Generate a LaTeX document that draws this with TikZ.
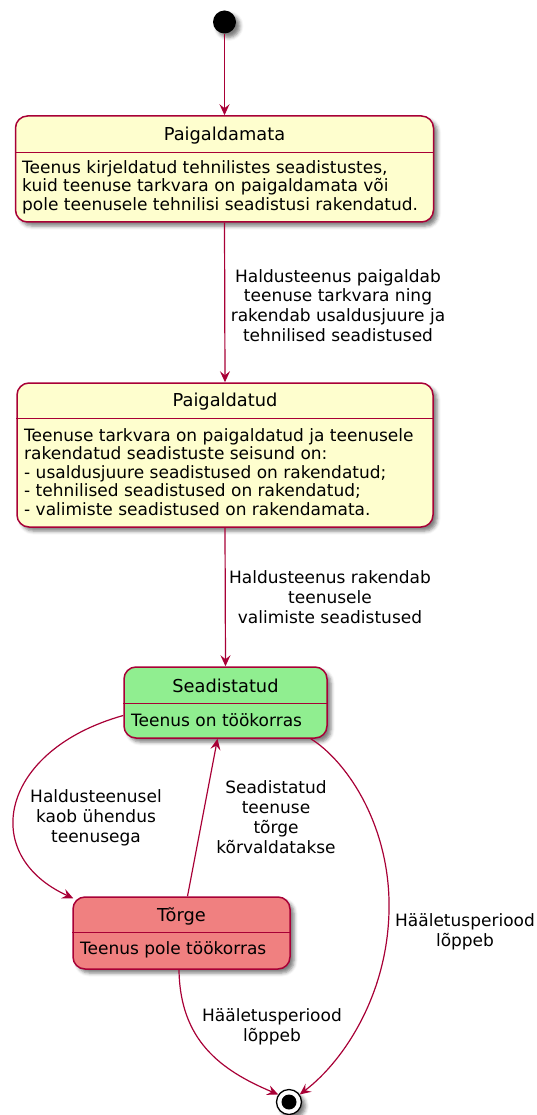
\documentclass[tikz,border=0pt]{standalone}
\usepackage{fontspec}
\setmainfont{DejaVu Sans}
\usetikzlibrary{arrows.meta,calc,shadows.blur}
\definecolor{umlborder}{HTML}{A80036}
\definecolor{umlfill}{HTML}{FEFECE}
\definecolor{okfill}{HTML}{90EE90}
\definecolor{errfill}{HTML}{F08080}
\begin{document}
\begin{tikzpicture}[x=1pt,y=-1pt,
  umlshadow/.style={blur shadow={shadow xshift=4pt, shadow yshift=-4pt, shadow blur radius=3.5pt, shadow opacity=50}},
  statebox/.style={draw=umlborder, line width=1.5pt, rounded corners=12pt, inner sep=0pt, umlshadow},
  stitle/.style={font=\fontsize{17.8}{20}\selectfont, inner sep=0pt},
  sbody/.style={font=\fontsize{17}{18.5}\selectfont, align=left, anchor=west, inner sep=0pt},
  lbl/.style={font=\fontsize{17}{19.8}\selectfont, align=center, inner sep=0pt},
  sepline/.style={draw=umlborder, line width=1.3pt},
  trans/.style={draw=umlborder, line width=1.2pt, -{Stealth[length=11pt,width=10pt,inset=4pt]}},
]
\useasboundingbox (0,0) rectangle (536,1115);

% initial and final pseudo-states
\node[circle, fill=black, minimum size=23pt, inner sep=0pt, umlshadow] (init) at (224.5,22) {};
\node[circle, draw=black, line width=1.3pt, fill=white, minimum size=25pt, inner sep=0pt, umlshadow] (fin) at (289,1102) {};
\node[circle, fill=black, minimum size=15pt, inner sep=0pt] (findot) at (fin) {};

% Paigaldamata
\node[statebox, fill=umlfill, minimum width=418pt, minimum height=106pt] (s1) at (224.5,169) {};
\draw[sepline] ($(s1.north west)+(0,37)$) -- ($(s1.north east)+(0,37)$);
\node[stitle] (s1t) at (224.5,136) {Paigaldamata};
\node[sbody] (s1b) at (22,187) {Teenus kirjeldatud tehnilistes seadistustes,\\kuid teenuse tarkvara on paigaldamata või\\pole teenusele tehnilisi seadistusi rakendatud.};

% Paigaldatud
\node[statebox, fill=umlfill, minimum width=416pt, minimum height=144pt] (s2) at (225,455) {};
\draw[sepline] ($(s2.north west)+(0,36)$) -- ($(s2.north east)+(0,36)$);
\node[stitle] (s2t) at (225,402) {Paigaldatud};
\node[sbody] (s2b) at (24,472) {Teenuse tarkvara on paigaldatud ja teenusele\\rakendatud seadistuste seisund on:\\- usaldusjuure seadistused on rakendatud;\\- tehnilised seadistused on rakendatud;\\- valimiste seadistused on rakendamata.};

% Seadistatud
\node[statebox, fill=okfill, minimum width=203pt, minimum height=71pt] (s3) at (225.5,702.5) {};
\draw[sepline] ($(s3.north west)+(0,37)$) -- ($(s3.north east)+(0,37)$);
\node[stitle] (s3t) at (225.5,686) {Seadistatud};
\node[sbody] (s3b) at (131,720) {Teenus on töökorras};

% Tõrge
\node[statebox, fill=errfill, minimum width=217pt, minimum height=72pt] (s4) at (181.5,933) {};
\draw[sepline] ($(s4.north west)+(0,36)$) -- ($(s4.north east)+(0,36)$);
\node[stitle] (s4t) at (181.5,916) {Tõrge};
\node[sbody] (s4b) at (80,950) {Teenus pole töökorras};

% transitions
\draw[trans] (init) -- (init |- s1.north);
\draw[trans] (s1.south) -- (s2.north);
\draw[trans] (s2.south) -- (s3.north);
\draw[trans] ($(s3.west)+(0,13)$) .. controls (0,750) and (-22,855) .. ($(s4.north west)+(1,2)$);
\draw[trans] ($(s4.north)+(6,0)$) -- ($(s3.south)+(-8,0)$);
\draw[trans] ($(s3.south east)+(-17,0)$) .. controls (345,760) and (387,820) .. (389,900) .. controls (391,990) and (345,1060) .. (fin.35);
\draw[trans] ($(s4.south)+(-2.5,0)$) .. controls (180,1040) and (220,1070) .. (fin.145);

% transition labels
\node[lbl] (l1) at (338,305.5) {Haldusteenus paigaldab\\teenuse tarkvara ning\\rakendab usaldusjuure ja\\tehnilised seadistused};
\node[lbl] (l2) at (330,597) {Haldusteenus rakendab\\teenusele\\valimiste seadistused};
\node[lbl] (l3) at (96,818) {Haldusteenusel\\kaob ühendus\\teenusega};
\node[lbl] (l4) at (276,817) {Seadistatud\\teenuse\\tõrge\\kõrvaldatakse};
\node[lbl] (l5) at (465,932) {Hääletusperiood\\lõppeb};
\node[lbl] (l6) at (272,1027) {Hääletusperiood\\lõppeb};
\end{tikzpicture}
\end{document}
